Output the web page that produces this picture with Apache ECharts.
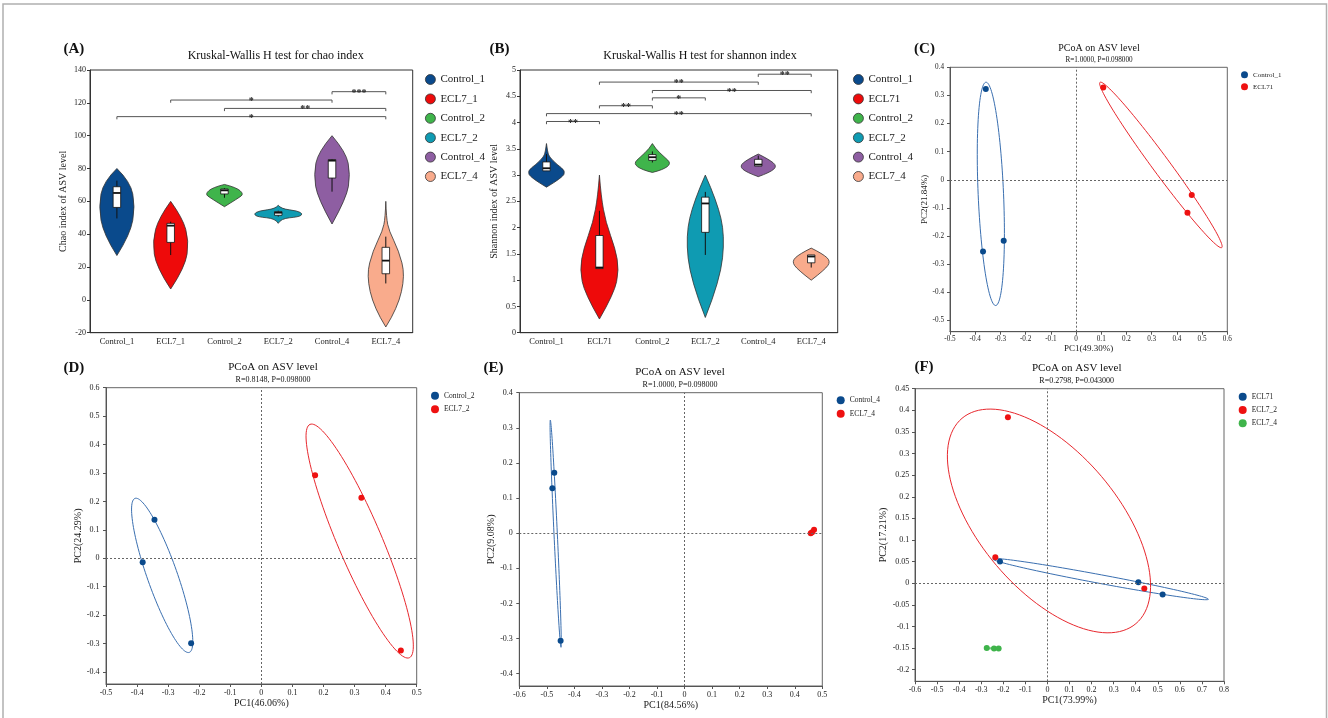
<!DOCTYPE html>
<html><head><meta charset="utf-8">
<script src="https://cdn.jsdelivr.net/npm/echarts@6/dist/echarts.min.js"></script>
<style>html,body{margin:0;padding:0;background:#fff}#c{width:1328px;height:718px}</style>
</head><body><div id="c"></div>
<script>
// ================= DATA =================
// Panel A: chao index
const chaoGroups = ['Control_1','ECL7_1','Control_2','ECL7_2','Control_4','ECL7_4'];
const chaoTicks = [-20,0,20,40,60,80,100,120,140];
// violin outline control points [value, half-width as fraction of band], bottom tip -> top tip
const chaoViolin = [
  [[27,0],[40,0.25],[57,0.34],[72,0.25],[80,0]],
  [[6.6,0],[20,0.27],[36,0.34],[50,0.22],[60,0]],
  [[56.75,0],[62,0.26],[64.5,0.36],[68.5,0.22],[70.3,0]],
  [[46.6,0],[49.5,0.05],[50.5,0.38],[52.3,0.46],[54.2,0.36],[55.5,0.05],[57.6,0]],
  [[46.2,0],[62,0.27],[76.5,0.34],[90,0.26],[100,0]],
  [[-16.5,0],[-5,0.22],[15,0.36],[30,0.24],[42,0.06],[50,0.01],[60,0]]
];
// [lowWhisker, q1, median, q3, highWhisker]
const chaoBox = [
  [49.6,56.3,65.1,68.9,72.6],
  [27.3,35,45.2,46.6,47.6],
  [62.2,64.5,66.7,67.5,68],
  [50.7,51.5,53.1,53.7,54.3],
  [65.9,74.2,84.8,85.4,85.8],
  [10,15.9,23.9,32,38.5]
];
// [fromIndex, toIndex, y, label]
const chaoSig = [[4,5,126.8,'***'],[1,4,121.7,'*'],[2,5,116.6,'**'],[0,5,111.6,'*']];

// Panel B: shannon index
const shannonGroups = ['Control_1','ECL71','Control_2','ECL7_2','Control_4','ECL7_4'];
const shannonTicks = [0,0.5,1,1.5,2,2.5,3,3.5,4,4.5,5];
const shannonViolin = [
  [[2.77,0],[2.95,0.3],[3.08,0.36],[3.2,0.2],[3.35,0.05],[3.45,0.02],[3.6,0]],
  [[0.26,0],[0.75,0.28],[1.2,0.37],[1.6,0.3],[2.1,0.12],[2.6,0.03],[3.0,0]],
  [[3.05,0],[3.1,0.2],[3.22,0.36],[3.35,0.22],[3.5,0.06],[3.6,0]],
  [[0.29,0],[1.0,0.28],[1.85,0.37],[2.5,0.22],[3.0,0]],
  [[2.97,0],[3.05,0.22],[3.17,0.36],[3.3,0.2],[3.4,0]],
  [[1.0,0],[1.2,0.26],[1.36,0.37],[1.5,0.22],[1.61,0]]
];
const shannonBox = [
  [3.08,3.08,3.13,3.25,3.40],
  [1.22,1.22,1.24,1.85,2.32],
  [3.24,3.28,3.34,3.39,3.45],
  [1.48,1.91,2.46,2.58,2.68],
  [3.17,3.17,3.20,3.30,3.37],
  [1.24,1.33,1.45,1.48,1.48]
];
const shannonSig = [[4,5,4.92,'**'],[1,4,4.77,'**'],[2,5,4.61,'**'],[2,3,4.47,'*'],[1,2,4.32,'**'],[0,5,4.17,'**'],[0,1,4.02,'**']];

// Panel C
const cXTicks = [-0.5,-0.4,-0.3,-0.2,-0.1,0,0.1,0.2,0.3,0.4,0.5,0.6];
const cYTicks = [-0.5,-0.4,-0.3,-0.2,-0.1,0,0.1,0.2,0.3,0.4];
const cControl1 = [[-0.358,0.323],[-0.287,-0.217],[-0.369,-0.255]];
const cECL71 = [[0.108,0.328],[0.459,-0.054],[0.442,-0.117]];
// ellipse: [cx, cy, ax, ay, bx, by] (conjugate semi-axis vectors, data units)
const cEllipses = [[-0.338,-0.050,0.0192,-0.397,0.0503,0.0019],[0.3366,0.0529,0.2414,-0.2938,0.0275,0.01825]];

// Panel D
const dXTicks = [-0.5,-0.4,-0.3,-0.2,-0.1,0,0.1,0.2,0.3,0.4,0.5];
const dYTicks = [-0.4,-0.3,-0.2,-0.1,0,0.1,0.2,0.3,0.4,0.5,0.6];
const dControl2 = [[-0.344,0.136],[-0.382,-0.014],[-0.226,-0.299]];
const dECL72 = [[0.173,0.292],[0.322,0.213],[0.449,-0.324]];
const dEllipses = [[-0.3192,-0.060,0.0874,-0.2708,0.0455,0.0176],[0.3165,0.0607,0.1599,-0.4103,0.0652,0.0304]];

// Panel E
const eXTicks = [-0.6,-0.5,-0.4,-0.3,-0.2,-0.1,0,0.1,0.2,0.3,0.4,0.5];
const eYTicks = [-0.4,-0.3,-0.2,-0.1,0,0.1,0.2,0.3,0.4];
const eControl4 = [[-0.473,0.172],[-0.480,0.128],[-0.450,-0.306]];
const eECL74 = [[0.458,0.0],[0.463,0.003],[0.470,0.010]];
const eEllipses = [[-0.468,-0.0013,0.0194,-0.3235,0.00605,0.00022],[0.464,0.004,0.008,0.007,0.002,-0.002]];

// Panel F
const fXTicks = [-0.6,-0.5,-0.4,-0.3,-0.2,-0.1,0,0.1,0.2,0.3,0.4,0.5,0.6,0.7,0.8];
const fYTicks = [-0.2,-0.15,-0.1,-0.05,0,0.05,0.1,0.15,0.2,0.25,0.3,0.35,0.4,0.45];
const fECL71 = [[-0.215,0.050],[0.412,0.002],[0.522,-0.026]];
const fECL72 = [[-0.179,0.384],[-0.236,0.060],[0.439,-0.012]];
const fECL74 = [[-0.275,-0.150],[-0.242,-0.151],[-0.221,-0.151]];
const fEllipses = [[0.2406,0.0094,0.4887,-0.0466,0.0036,0.0099],[0.007,0.144,0.394,-0.2375,0.238,0.1029],[-0.248,-0.1505,0.027,0.0005,0.0,0.0012]];

// ================= STYLE =================
const SERIF = "'Liberation Serif','Times New Roman',serif";
const violinColors = ['#0a4a8c','#ee0a0a','#3fb44b','#0f9bb2','#8e5ea2','#f9ab8c'];
const BLUE = '#0a4a8c', RED = '#ee1111', GREEN = '#3fb44b';
const BLUE_LINE = '#3a6fb0', RED_LINE = '#e8282e', GREEN_LINE = '#3fb44b';

const grids = [
  {left:90, top:70, width:322.7, height:262.7, borderColor:'#333'},
  {left:520, top:70, width:317.7, height:262.7, borderColor:'#333'},
  {left:950, top:67.3, width:277.3, height:264.4, borderColor:'#666'},
  {left:106, top:387.7, width:310.7, height:296.3, borderColor:'#666'},
  {left:519.3, top:392.7, width:303, height:293.3, borderColor:'#666'},
  {left:915, top:388.7, width:309, height:292.6, borderColor:'#666'}
].map(g => Object.assign(g, {show:true, borderWidth:1, backgroundColor:'transparent', containLabel:false, outerBoundsMode:'none'}));

const fmt = v => String(Math.round(v*100)/100);

function catAxis(gi, groups){
  return {type:'category', gridIndex:gi, data:groups, boundaryGap:true,
    axisLine:{onZero:false, lineStyle:{color:'#333', width:1}},
    axisTick:{alignWithLabel:true, length:3, lineStyle:{color:'#333'}},
    axisLabel:{fontFamily:SERIF, fontSize:8.5, color:'#222', margin:5},
    splitLine:{show:false}};
}
function valAxisY(gi, min, max, interval, name, nameGap, fs){
  return {type:'value', gridIndex:gi, min, max, interval,
    name, nameLocation:'middle', nameGap, nameRotate:90,
    nameTextStyle:{fontFamily:SERIF, fontSize:10, color:'#222'},
    axisLine:{show:true, onZero:false, lineStyle:{color:'#333'}},
    axisTick:{show:true, length:3, lineStyle:{color:'#333'}},
    axisLabel:{fontFamily:SERIF, fontSize:fs, color:'#222', margin:4},
    splitLine:{show:false}};
}
function pcoaAxis(dim, gi, min, max, ticks, name, nameGap, fs, nfs, margin){
  const ax = {type:'value', gridIndex:gi, min, max,
    name, nameLocation:'middle', nameGap,
    nameTextStyle:{fontFamily:SERIF, fontSize:nfs, color:'#222'},
    axisLine:{show:true, onZero:false, lineStyle:{color:'#555'}},
    axisTick:{show:true, length:3, customValues:ticks, lineStyle:{color:'#555'}},
    axisLabel:{fontFamily:SERIF, fontSize:fs, color:'#222', margin, customValues:ticks, formatter:fmt},
    splitLine:{show:false}};
  if (dim === 'y') ax.nameRotate = 90;
  return ax;
}

// quadratic B-spline path through control points (ends pinned)
function bspline(P){
  let s = '';
  for (let i = 1; i < P.length - 1; i++){
    const c = P[i];
    const e = (i < P.length - 2) ? [(P[i][0]+P[i+1][0])/2, (P[i][1]+P[i+1][1])/2] : P[i+1];
    s += ' Q' + c[0] + ' ' + c[1] + ' ' + e[0] + ' ' + e[1];
  }
  return s;
}

function violinSeries(gi, groups, outlines, boxes, colors){
  return groups.map((g, i) => ({
    type:'custom', name:g, xAxisIndex:gi, yAxisIndex:gi, silent:true, clip:false,
    itemStyle:{color:colors[i]},
    data:[[i, boxes[i][2]]], encode:{x:0, y:1},
    renderItem:(params, api) => {
      const idx = api.value(0);
      const band = api.size([1,0])[0];
      const ol = outlines[idx];
      const cx = api.coord([idx, ol[0][0]])[0];
      const R = ol.map(([v,w]) => [cx + w*band, api.coord([idx, v])[1]]);
      const L = ol.slice().reverse().map(([v,w]) => [cx - w*band, api.coord([idx, v])[1]]);
      const d = 'M' + R[0][0] + ' ' + R[0][1] + bspline(R) + bspline(L) + ' Z';
      const b = boxes[idx];
      const yv = b.map(v => api.coord([idx, v])[1]);
      const hw = 0.07*band;
      return {type:'group', children:[
        {type:'path', shape:{pathData:d}, style:{fill:colors[idx], stroke:'#333', lineWidth:0.8}},
        {type:'line', shape:{x1:cx, y1:yv[0], x2:cx, y2:yv[4]}, style:{stroke:'#111', lineWidth:1}},
        {type:'rect', shape:{x:cx-hw, y:yv[3], width:2*hw, height:yv[1]-yv[3]}, style:{fill:'#fff', stroke:'#111', lineWidth:0.8}},
        {type:'line', shape:{x1:cx-hw, y1:yv[2], x2:cx+hw, y2:yv[2]}, style:{stroke:'#111', lineWidth:1.8}}
      ]};
    }
  }));
}

function sigSeries(gi, sig){
  return {type:'custom', name:'sig'+gi, xAxisIndex:gi, yAxisIndex:gi, silent:true, clip:false,
    data: sig.map(s => [s[0], s[2], s[1]]), encode:{x:0, y:1},
    renderItem:(params, api) => {
      const s = sig[params.dataIndex];
      const p1 = api.coord([s[0], s[2]]), p2 = api.coord([s[1], s[2]]);
      return {type:'group', children:[
        {type:'polyline', shape:{points:[[p1[0],p1[1]+2.7],[p1[0],p1[1]],[p2[0],p2[1]],[p2[0],p2[1]+2.7]]},
          style:{fill:'none', stroke:'#555', lineWidth:1}},
        {type:'text', style:{text:s[3], x:(p1[0]+p2[0])/2, y:p1[1]+1.5, align:'center', verticalAlign:'middle',
          font:'bold 10px ' + SERIF, fill:'#222'}}
      ]};
    }};
}

function ellipseSeries(gi, ells, colors){
  return {type:'custom', name:'ell'+gi, xAxisIndex:gi, yAxisIndex:gi, silent:true, clip:false, z:2,
    data: ells, encode:{x:0, y:1},
    renderItem:(params, api) => {
      const e = ells[params.dataIndex];
      const c = api.coord([e[0], e[1]]);
      const a = api.coord([e[0]+e[2], e[1]+e[3]]);
      const b = api.coord([e[0]+e[4], e[1]+e[5]]);
      const ax = a[0]-c[0], ay = a[1]-c[1], bx = b[0]-c[0], by = b[1]-c[1];
      const pts = [];
      for (let k = 0; k <= 120; k++){
        const t = 2*Math.PI*k/120;
        pts.push([c[0] + ax*Math.cos(t) + bx*Math.sin(t), c[1] + ay*Math.cos(t) + by*Math.sin(t)]);
      }
      return {type:'polygon', shape:{points:pts}, style:{fill:'none', stroke:colors[params.dataIndex], lineWidth:1}};
    }};
}

const zeroLines = {silent:true, symbol:'none', label:{show:false}, animation:false,
  lineStyle:{color:'#666', type:[2,2], width:1}, data:[{xAxis:0},{yAxis:0}]};

function scatter(gi, name, data, color, withZero){
  const s = {type:'scatter', name, xAxisIndex:gi, yAxisIndex:gi, data, symbolSize:6, z:3,
    itemStyle:{color, opacity:1}, silent:true};
  if (withZero) s.markLine = zeroLines;
  return s;
}

function legend(left, top, size, gap, fs, items, border){
  return {orient:'vertical', left, top, itemWidth:size, itemHeight:size, itemGap:gap, icon:'circle',
    selectedMode:false, textStyle:{fontFamily:SERIF, fontSize:fs, color:'#222'},
    data: items.map(([n,c]) => ({name:n, icon:'circle',
      itemStyle: border ? {color:c, borderColor:'#333', borderWidth:0.8} : {color:c, borderWidth:0}}))};
}

function txt(text, x, y, font){
  return {type:'text', silent:true, style:{text, x, y, align:'center', verticalAlign:'middle', font, fill:'#111'}};
}

const option = {
  animation:false,
  backgroundColor:'#fff',
  grid: grids,
  xAxis: [
    catAxis(0, chaoGroups),
    catAxis(1, shannonGroups),
    pcoaAxis('x', 2, -0.5, 0.6, cXTicks, 'PC1(49.30%)', 12, 7.2, 9, 4),
    pcoaAxis('x', 3, -0.5, 0.5, dXTicks, 'PC1(46.06%)', 14, 8, 10, 5),
    pcoaAxis('x', 4, -0.6, 0.5, eXTicks, 'PC1(84.56%)', 14, 8, 10, 4.5),
    pcoaAxis('x', 5, -0.6, 0.8, fXTicks, 'PC1(73.99%)', 14, 8, 10, 4.5)
  ],
  yAxis: [
    valAxisY(0, -20, 140, 20, 'Chao index of ASV level', 22, 8),
    valAxisY(1, 0, 5, 0.5, 'Shannon index of ASV level', 21, 8),
    pcoaAxis('y', 2, -0.54, 0.4, cYTicks, 'PC2(21.84%)', 18, 7.2, 9, 6),
    pcoaAxis('y', 3, -0.442, 0.6, dYTicks, 'PC2(24.29%)', 23, 8, 10, 6.5),
    pcoaAxis('y', 4, -0.435, 0.4, eYTicks, 'PC2(9.08%)', 23, 8, 10, 6.5),
    pcoaAxis('y', 5, -0.227, 0.45, fYTicks, 'PC2(17.21%)', 25, 8, 10, 5.7)
  ],
  legend: [
    legend(420, 69, 10, 8.4, 11, chaoGroups.map((g,i)=>[g, violinColors[i]]), true),
    legend(848, 69, 10, 8.4, 11, shannonGroups.map((g,i)=>[g, violinColors[i]]), true),
    legend(1236, 66.3, 7, 5, 7, [['Control_1',BLUE],['ECL71',RED]], false),
    legend(426, 386.7, 8, 5.6, 7.5, [['Control_2',BLUE],['ECL7_2',RED]], false),
    legend(831.7, 391.3, 8, 5.4, 7.5, [['Control_4',BLUE],['ECL7_4',RED]], false),
    legend(1233.7, 387.7, 8, 5.3, 7.5, [['ECL71',BLUE],['ECL7_2',RED],['ECL7_4',GREEN]], false)
  ],
  graphic: [
    {type:'rect', silent:true, shape:{x:3, y:4, width:1323.5, height:730}, style:{fill:'none', stroke:'#b0b0b0', lineWidth:1.5}},
    txt('(A)', 73.8, 49.5, 'bold 15px ' + SERIF),
    txt('(B)', 499.5, 49.5, 'bold 15px ' + SERIF),
    txt('(C)', 924.5, 49.5, 'bold 15px ' + SERIF),
    txt('(D)', 73.8, 368, 'bold 15px ' + SERIF),
    txt('(E)', 493.5, 368.3, 'bold 15px ' + SERIF),
    txt('(F)', 924, 367.2, 'bold 15px ' + SERIF),
    txt('Kruskal-Wallis H test for chao index', 275.7, 55.7, '12px ' + SERIF),
    txt('Kruskal-Wallis H test for shannon index', 700, 55.7, '12px ' + SERIF),
    txt('PCoA on ASV level', 1099, 48.3, '10px ' + SERIF),
    txt('R=1.0000, P=0.098000', 1099, 60, '7.2px ' + SERIF),
    txt('PCoA on ASV level', 273, 367, '11px ' + SERIF),
    txt('R=0.8148, P=0.098000', 273, 379.7, '8px ' + SERIF),
    txt('PCoA on ASV level', 680, 371.7, '11px ' + SERIF),
    txt('R=1.0000, P=0.098000', 680, 384.7, '8px ' + SERIF),
    txt('PCoA on ASV level', 1076.7, 368.3, '11px ' + SERIF),
    txt('R=0.2798, P=0.043000', 1076.7, 381, '8px ' + SERIF)
  ],
  series: [
    ...violinSeries(0, chaoGroups, chaoViolin, chaoBox, violinColors),
    sigSeries(0, chaoSig),
    ...violinSeries(1, shannonGroups, shannonViolin, shannonBox, violinColors),
    sigSeries(1, shannonSig),
    ellipseSeries(2, cEllipses, [BLUE_LINE, RED_LINE]),
    scatter(2, 'Control_1', cControl1, BLUE, true),
    scatter(2, 'ECL71', cECL71, RED, false),
    ellipseSeries(3, dEllipses, [BLUE_LINE, RED_LINE]),
    scatter(3, 'Control_2', dControl2, BLUE, true),
    scatter(3, 'ECL7_2', dECL72, RED, false),
    ellipseSeries(4, eEllipses, [BLUE_LINE, RED_LINE]),
    scatter(4, 'Control_4', eControl4, BLUE, true),
    scatter(4, 'ECL7_4', eECL74, RED, false),
    ellipseSeries(5, fEllipses, [BLUE_LINE, RED_LINE, GREEN_LINE]),
    scatter(5, 'ECL71', fECL71, BLUE, true),
    scatter(5, 'ECL7_2', fECL72, RED, false),
    scatter(5, 'ECL7_4', fECL74, GREEN, false)
  ]
};
const chart = echarts.init(document.getElementById('c'), null, {renderer:'canvas'});
chart.setOption(option);
</script>
</body></html>
